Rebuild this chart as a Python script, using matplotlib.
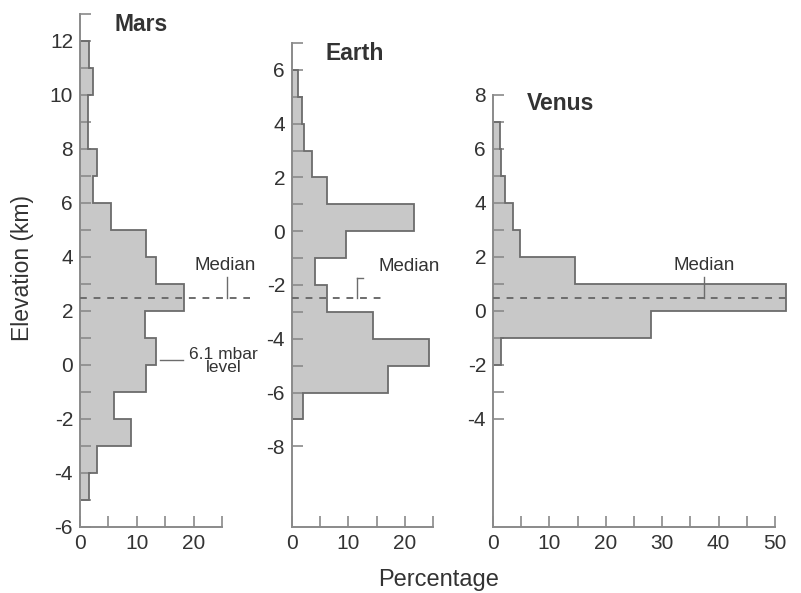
import matplotlib
matplotlib.use('Agg')
import matplotlib.pyplot as plt
import numpy as np

plt.rcParams['font.family'] = ['Liberation Sans', 'DejaVu Sans']

# bin edges (km) and percentage of surface per 1 km bin
mars_edges = np.arange(-5, 13)
mars_pct = [1.6, 3.0, 8.9, 6.0, 11.6, 13.4, 11.4, 18.3, 13.4, 11.7,
            5.5, 2.3, 3.0, 1.4, 1.4, 2.3, 1.6]
earth_edges = np.arange(-7, 7)
earth_pct = [2.0, 17.0, 24.3, 14.3, 6.2, 4.1, 9.5, 21.6, 6.2, 3.5, 2.2, 1.7, 1.1]
venus_edges = np.arange(-2, 8)
venus_pct = [1.5, 28.0, 52.0, 14.5, 4.8, 3.6, 2.2, 1.5, 1.2]

mars_median = 2.5
earth_median = -2.5
venus_median = 0.5

FILL = '#c8c8c8'
EDGE = '#6c6c6c'
AXC = '#8a8a8a'
TXT = '#333333'

W, H = 801, 593
fig = plt.figure(figsize=(W / 100, H / 100), dpi=100)


def px_axes(x0, x1, y0, y1):
    return fig.add_axes([x0 / W, 1 - y1 / H, (x1 - x0) / W, (y1 - y0) / H])


def panel(ax, edges, pct, ylim, yticks, xmax, name, title_y):
    ax.stairs(pct, edges, orientation='horizontal', fill=True,
              color=FILL, clip_on=False, zorder=1)
    ax.stairs(pct, edges, orientation='horizontal', baseline=0,
              color=EDGE, lw=1.3, clip_on=False, zorder=2)
    ax.set_ylim(*ylim)
    ax.set_xlim(0, xmax)
    ax.set_yticks(yticks)
    ax.set_yticklabels([str(v) if v % 2 == 0 else '' for v in yticks])
    xt = list(range(0, xmax + 1, 5))
    ax.set_xticks(xt)
    ax.set_xticklabels([str(v) if v % 10 == 0 else '' for v in xt])
    for s in ['top', 'right']:
        ax.spines[s].set_visible(False)
    for s in ['left', 'bottom']:
        ax.spines[s].set_color(AXC)
        ax.spines[s].set_linewidth(1.4)
    ax.tick_params(direction='in', length=8, width=1.2, color=AXC,
                   labelsize=15, labelcolor=TXT, pad=5)
    ax.patch.set_alpha(0)
    ax.text(6, title_y, name, fontsize=16.5, fontweight='bold', color=TXT,
            ha='left', va='center')


def median_mark(ax, x_end, med, xb, text_x, text_y, hook=False):
    ax.plot([0, x_end], [med, med], ls=(0, (3.5, 3.5)), color=EDGE, lw=1.4,
            clip_on=False, zorder=3)
    top = text_y - 0.45
    ax.plot([xb, xb], [med, top], color=EDGE, lw=1.0, clip_on=False)
    if hook:
        ax.plot([xb, xb + 1.0], [top, top], color=EDGE, lw=1.0, clip_on=False)
    ax.text(text_x, text_y, 'Median', fontsize=13.5, color=TXT,
            ha='center', va='center', clip_on=False)


ax1 = px_axes(80, 222, 14, 527)
panel(ax1, mars_edges, mars_pct, (-6, 13), list(range(-6, 14)), 25, 'Mars', 12.6)
median_mark(ax1, 30, mars_median, 25.9, 25.5, 3.7)
ax1.plot([14.1, 18.1], [0.2, 0.2], color=EDGE, lw=1.0, clip_on=False)
ax1.text(25.3, 0.15, '6.1 mbar\nlevel', fontsize=12.5, color=TXT,
         ha='center', va='center', linespacing=0.85, clip_on=False)

ax2 = px_axes(292, 433, 43, 527)
panel(ax2, earth_edges, earth_pct, (-11, 7), list(range(-8, 8)), 25, 'Earth', 6.6)
median_mark(ax2, 16, earth_median, 11.6, 20.8, -1.3, hook=True)

ax3 = px_axes(493, 775, 95, 527)
panel(ax3, venus_edges, venus_pct, (-8, 8), list(range(-4, 9)), 50, 'Venus', 7.7)
median_mark(ax3, 53, venus_median, 37.5, 37.5, 1.7)

fig.text(23 / W, 1 - 268 / H, 'Elevation (km)', rotation=90, fontsize=16.5,
         color=TXT, ha='center', va='center')
fig.text(439 / W, 1 - 580 / H, 'Percentage', fontsize=17, color=TXT,
         ha='center', va='center')

fig.savefig('out.png', dpi=100, facecolor='white')
